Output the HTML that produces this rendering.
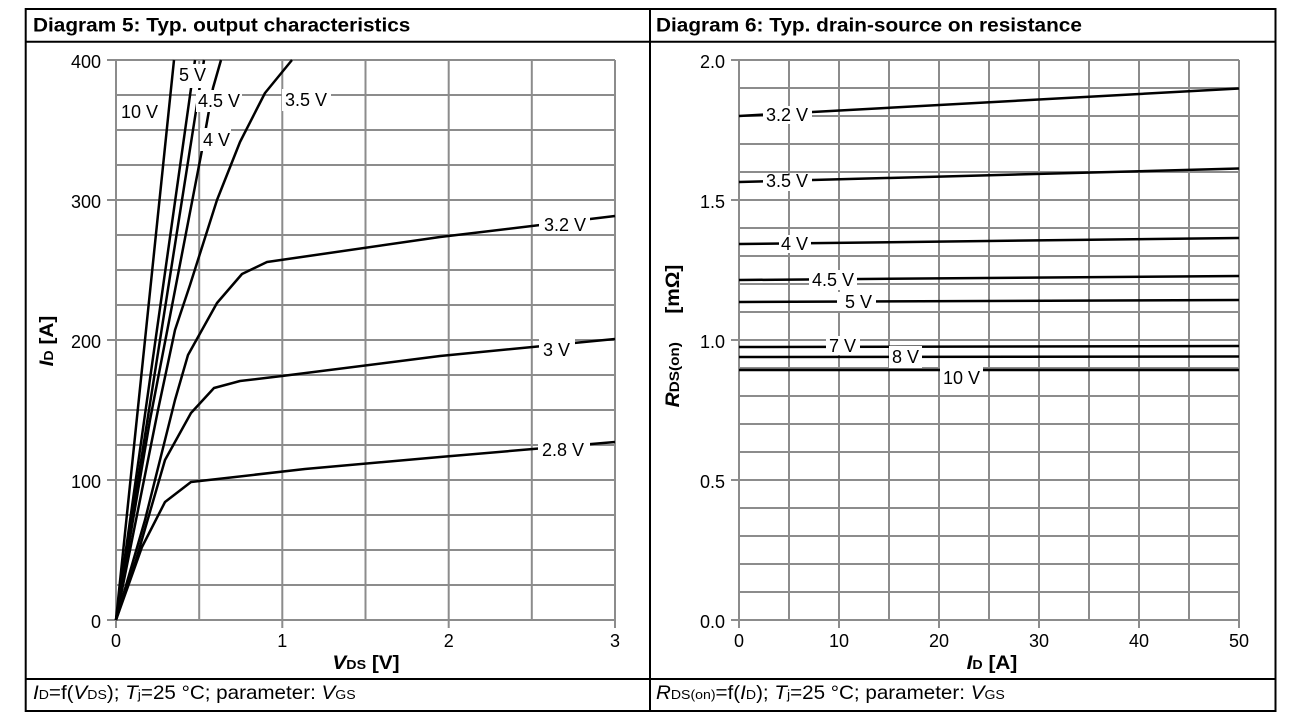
<!DOCTYPE html>
<html><head><meta charset="utf-8"><style>
html,body{margin:0;padding:0;background:#fff;}
svg{display:block;}
text{font-family:"Liberation Sans",Arial,sans-serif;fill:#000;}
.h{font-size:19px;font-weight:bold;}
.t{font-size:18px;}
.f{font-size:19px;}
.a{font-size:19px;font-weight:bold;}
.grid{stroke:#8c8c8c;stroke-width:2;fill:none;}
.c{stroke:#000;stroke-width:2.5;fill:none;stroke-linejoin:round;stroke-linecap:butt;}
</style></head><body>
<svg width="1296" height="720" viewBox="0 0 1296 720" xmlns="http://www.w3.org/2000/svg">
<rect x="0" y="0" width="1296" height="720" fill="#fff"/>

<!-- frame -->
<g stroke="#000" stroke-width="2" fill="none">
<rect x="25.7" y="9" width="1249.8" height="702"/>
<path d="M25.7 41.7H1275.5 M25.7 679H1275.5 M650 9V711"/>
</g>

<!-- headers -->
<g transform="translate(33,31.5) scale(1.095,1)"><text class="h">Diagram 5: Typ. output characteristics</text></g>
<g transform="translate(656,31.5) scale(1.095,1)"><text class="h">Diagram 6: Typ. drain-source on resistance</text></g>

<!-- LEFT PLOT grid -->
<path class="grid" d="M116 60V620 M199.2 60V620 M282.3 60V620 M365.5 60V620 M448.7 60V620 M531.8 60V620 M615 60V620
M116 60H615 M116 95H615 M116 130H615 M116 165H615 M116 200H615 M116 235H615 M116 270H615 M116 305H615 M116 340H615 M116 375H615 M116 410H615 M116 445H615 M116 480H615 M116 515H615 M116 550H615 M116 585H615 M116 620H615
M107 60H116 M107 200H116 M107 340H116 M107 480H116 M107 620H116
M116 620V628 M282.3 620V628 M448.7 620V628 M615 620V628"/>

<!-- LEFT curves -->
<path class="c" d="M116 620L174 60"/>
<path class="c" d="M116 620L195 60"/>
<path class="c" d="M116 620L204 60"/>
<path class="c" d="M116 620L150 420L176 285L202 150L213 88L221 60"/>
<path class="c" d="M116 620L158 410L175 330L190 285L217 200L240 142L265 93L292 60"/>
<path class="c" d="M116 620L145 520L175 400L188 355L217 303L242 274L267 262L440 237L615 216"/>
<path class="c" d="M116 620L136 560L165 460L191 413L214 388L240 381L282 376L440 356L615 339"/>
<path class="c" d="M116 620L142 547L165 502L191 482L305 469L440 457L615 442"/>

<!-- LEFT label boxes -->
<g fill="#fff">
<rect x="176" y="64" width="31" height="24"/>
<rect x="196" y="90" width="46" height="22"/>
<rect x="200" y="128" width="31" height="23"/>
<rect x="282" y="89" width="49" height="22"/>
<rect x="539" y="214" width="51" height="19"/>
<rect x="539" y="339" width="36" height="21"/>
<rect x="538" y="439" width="52" height="23"/>
</g>
<text class="t" x="121" y="118">10 V</text>
<text class="t" x="179" y="81">5 V</text>
<text class="t" x="198" y="107">4.5 V</text>
<text class="t" x="203" y="146">4 V</text>
<text class="t" x="285" y="106">3.5 V</text>
<text class="t" x="544" y="231">3.2 V</text>
<text class="t" x="543" y="356">3 V</text>
<text class="t" x="542" y="456">2.8 V</text>

<!-- LEFT tick labels -->
<text class="t" x="101" y="68" text-anchor="end">400</text>
<text class="t" x="101" y="208" text-anchor="end">300</text>
<text class="t" x="101" y="348" text-anchor="end">200</text>
<text class="t" x="101" y="488" text-anchor="end">100</text>
<text class="t" x="101" y="628" text-anchor="end">0</text>
<text class="t" x="116" y="647" text-anchor="middle">0</text>
<text class="t" x="282.3" y="647" text-anchor="middle">1</text>
<text class="t" x="448.7" y="647" text-anchor="middle">2</text>
<text class="t" x="615" y="647" text-anchor="middle">3</text>

<!-- LEFT axis titles -->
<g transform="translate(366,669) scale(1.095,1)"><text class="a" text-anchor="middle"><tspan font-style="italic">V</tspan><tspan font-size="13">DS</tspan> [V]</text></g>
<g transform="translate(53,341) rotate(-90) scale(1.095,1)"><text class="a" text-anchor="middle"><tspan font-style="italic">I</tspan><tspan font-size="13">D</tspan> [A]</text></g>

<!-- RIGHT PLOT grid -->
<path class="grid" d="M739 60V620 M789 60V620 M839 60V620 M889 60V620 M939 60V620 M989 60V620 M1039 60V620 M1089 60V620 M1139 60V620 M1189 60V620 M1239 60V620
M739 60H1239 M739 88H1239 M739 116H1239 M739 144H1239 M739 172H1239 M739 200H1239 M739 228H1239 M739 256H1239 M739 284H1239 M739 312H1239 M739 340H1239 M739 368H1239 M739 396H1239 M739 424H1239 M739 452H1239 M739 480H1239 M739 508H1239 M739 536H1239 M739 564H1239 M739 592H1239 M739 620H1239
M731 60H739 M731 200H739 M731 340H739 M731 480H739 M731 620H739
M739 620V628 M839 620V628 M939 620V628 M1039 620V628 M1139 620V628 M1239 620V628"/>

<!-- RIGHT curves -->
<path class="c" d="M739 116L1239 88.5"/>
<path class="c" d="M739 182L1239 168.5"/>
<path class="c" d="M739 244L1239 238"/>
<path class="c" d="M739 280L1239 276"/>
<path class="c" d="M739 302L1239 300"/>
<path class="c" d="M739 347L1239 346"/>
<path class="c" d="M739 357L1239 356.5"/>
<path class="c" d="M739 370L1239 370"/>

<!-- RIGHT label boxes -->
<g fill="#fff">
<rect x="763" y="106" width="49" height="18"/>
<rect x="763" y="174" width="49" height="17"/>
<rect x="779" y="235" width="32" height="18"/>
<rect x="809" y="270" width="48" height="20"/>
<rect x="837" y="292" width="39" height="19"/>
<rect x="826" y="336" width="34" height="19"/>
<rect x="889" y="346" width="33" height="22"/>
<rect x="940" y="367" width="43" height="23"/>
</g>
<text class="t" x="766" y="121">3.2 V</text>
<text class="t" x="766" y="187">3.5 V</text>
<text class="t" x="781" y="250">4 V</text>
<text class="t" x="812" y="286">4.5 V</text>
<text class="t" x="845" y="308">5 V</text>
<text class="t" x="829" y="352">7 V</text>
<text class="t" x="892" y="363">8 V</text>
<text class="t" x="943" y="384">10 V</text>

<!-- RIGHT tick labels -->
<text class="t" x="725" y="68" text-anchor="end">2.0</text>
<text class="t" x="725" y="208" text-anchor="end">1.5</text>
<text class="t" x="725" y="348" text-anchor="end">1.0</text>
<text class="t" x="725" y="488" text-anchor="end">0.5</text>
<text class="t" x="725" y="628" text-anchor="end">0.0</text>
<text class="t" x="739" y="647" text-anchor="middle">0</text>
<text class="t" x="839" y="647" text-anchor="middle">10</text>
<text class="t" x="939" y="647" text-anchor="middle">20</text>
<text class="t" x="1039" y="647" text-anchor="middle">30</text>
<text class="t" x="1139" y="647" text-anchor="middle">40</text>
<text class="t" x="1239" y="647" text-anchor="middle">50</text>

<!-- RIGHT axis titles -->
<g transform="translate(992,669) scale(1.095,1)"><text class="a" text-anchor="middle"><tspan font-style="italic">I</tspan><tspan font-size="13">D</tspan> [A]</text></g>
<g transform="translate(679,336) rotate(-90) scale(1.095,1)"><text class="a" text-anchor="middle"><tspan font-style="italic">R</tspan><tspan font-size="14">DS(on)</tspan><tspan dx="26">[mΩ]</tspan></text></g>

<!-- footers -->
<g transform="translate(33,699) scale(1.085,1)"><text class="f"><tspan font-style="italic">I</tspan><tspan font-size="13">D</tspan>=f(<tspan font-style="italic">V</tspan><tspan font-size="13">DS</tspan>); <tspan font-style="italic">T</tspan><tspan font-size="13">j</tspan>=25 °C; parameter: <tspan font-style="italic">V</tspan><tspan font-size="13">GS</tspan></text></g>
<g transform="translate(656,699) scale(1.085,1)"><text class="f"><tspan font-style="italic">R</tspan><tspan font-size="13">DS(on)</tspan>=f(<tspan font-style="italic">I</tspan><tspan font-size="13">D</tspan>); <tspan font-style="italic">T</tspan><tspan font-size="13">j</tspan>=25 °C; parameter: <tspan font-style="italic">V</tspan><tspan font-size="13">GS</tspan></text></g>
</svg>
</body></html>
